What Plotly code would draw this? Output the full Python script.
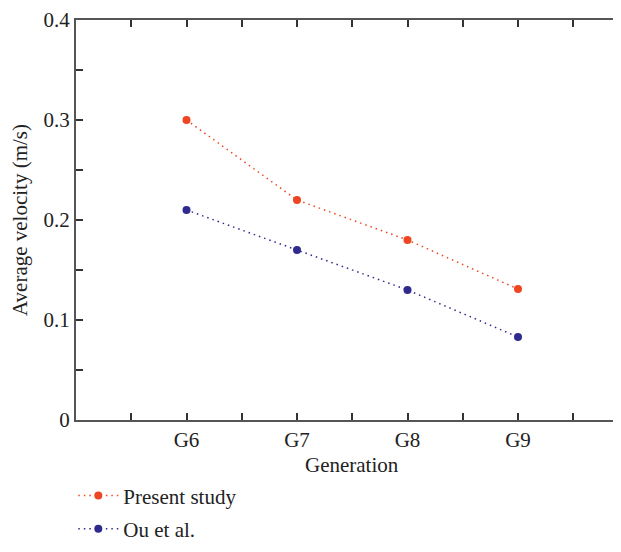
import plotly.graph_objects as go

categories = ["G6", "G7", "G8", "G9"]
present_study = [0.300, 0.220, 0.180, 0.131]
ou_et_al = [0.210, 0.170, 0.130, 0.083]
y_tick_vals = [0, 0.05, 0.1, 0.15, 0.2, 0.25, 0.3, 0.35, 0.4]
y_tick_text = ["0", "", "0.1", "", "0.2", "", "0.3", "", "0.4"]

xpos = list(range(len(categories)))
x_tick_vals = [v / 2 for v in range(-1, 2 * len(categories))]
x_tick_text = [categories[int(v)] if float(v).is_integer() and 0 <= v < len(categories) else "" for v in x_tick_vals]

RED = "#EE4523"
BLUE = "#2F2A8E"
FONT = "Liberation Serif"
AX = "#555555"
FS = 21

W, H = 605, 536
L, T = 68, 12
PLOT_BOTTOM = 412
unit = 110.5
paper_h = H - T

fig = go.Figure()
fig.add_trace(go.Scatter(x=xpos, y=present_study, mode="lines+markers", name="Present study",
                         line=dict(color=RED, width=1.5, dash="1.5px,4px"),
                         marker=dict(color=RED, size=8), legendgroup="a"))
fig.add_trace(go.Scatter(x=xpos, y=ou_et_al, mode="lines+markers", name="Ou et al.",
                         line=dict(color=BLUE, width=1.5, dash="1.5px,4px"),
                         marker=dict(color=BLUE, size=8), legendgroup="b"))

fig.add_annotation(text="Generation", x=(len(categories) - 1) / 2, xref="x",
                   y=(H - 457) / paper_h, yref="paper", yanchor="middle",
                   showarrow=False, font=dict(family=FONT, size=FS, color="#222222"))

fig.update_layout(
    width=W, height=H,
    margin=dict(l=L, r=0, t=T, b=0, pad=0, autoexpand=False),
    plot_bgcolor="white", paper_bgcolor="white",
    font=dict(family=FONT, size=FS, color="#222222"),
    showlegend=True,
    legend=dict(x=-0.005, y=-0.01, xanchor="left", yanchor="bottom",
                font=dict(family=FONT, size=FS, color="#222222"),
                tracegroupgap=3, itemwidth=40, bgcolor="rgba(0,0,0,0)", borderwidth=0),
    xaxis=dict(range=[-1, -1 + (W - L) / unit], tickvals=x_tick_vals, ticktext=x_tick_text,
               ticks="inside", ticklen=7, tickwidth=1.5, tickcolor="#333333",
               showline=True, linecolor=AX, linewidth=2, mirror="ticks",
               showgrid=False, zeroline=False, automargin=False,
               ticklabeloverflow="allow", tickfont=dict(size=FS)),
    yaxis=dict(range=[0, 0.4], tickvals=y_tick_vals, ticktext=y_tick_text,
               domain=[(H - PLOT_BOTTOM) / paper_h, 1],
               ticks="inside", ticklen=7, tickwidth=1.5, tickcolor="#333333",
               showline=True, linecolor=AX, linewidth=2,
               showgrid=False, zeroline=False, automargin=False,
               ticklabeloverflow="allow",
               title=dict(text="Average velocity (m/s)", font=dict(size=FS), standoff=10),
               tickfont=dict(size=FS)),
)

fig.write_html("out.html")
